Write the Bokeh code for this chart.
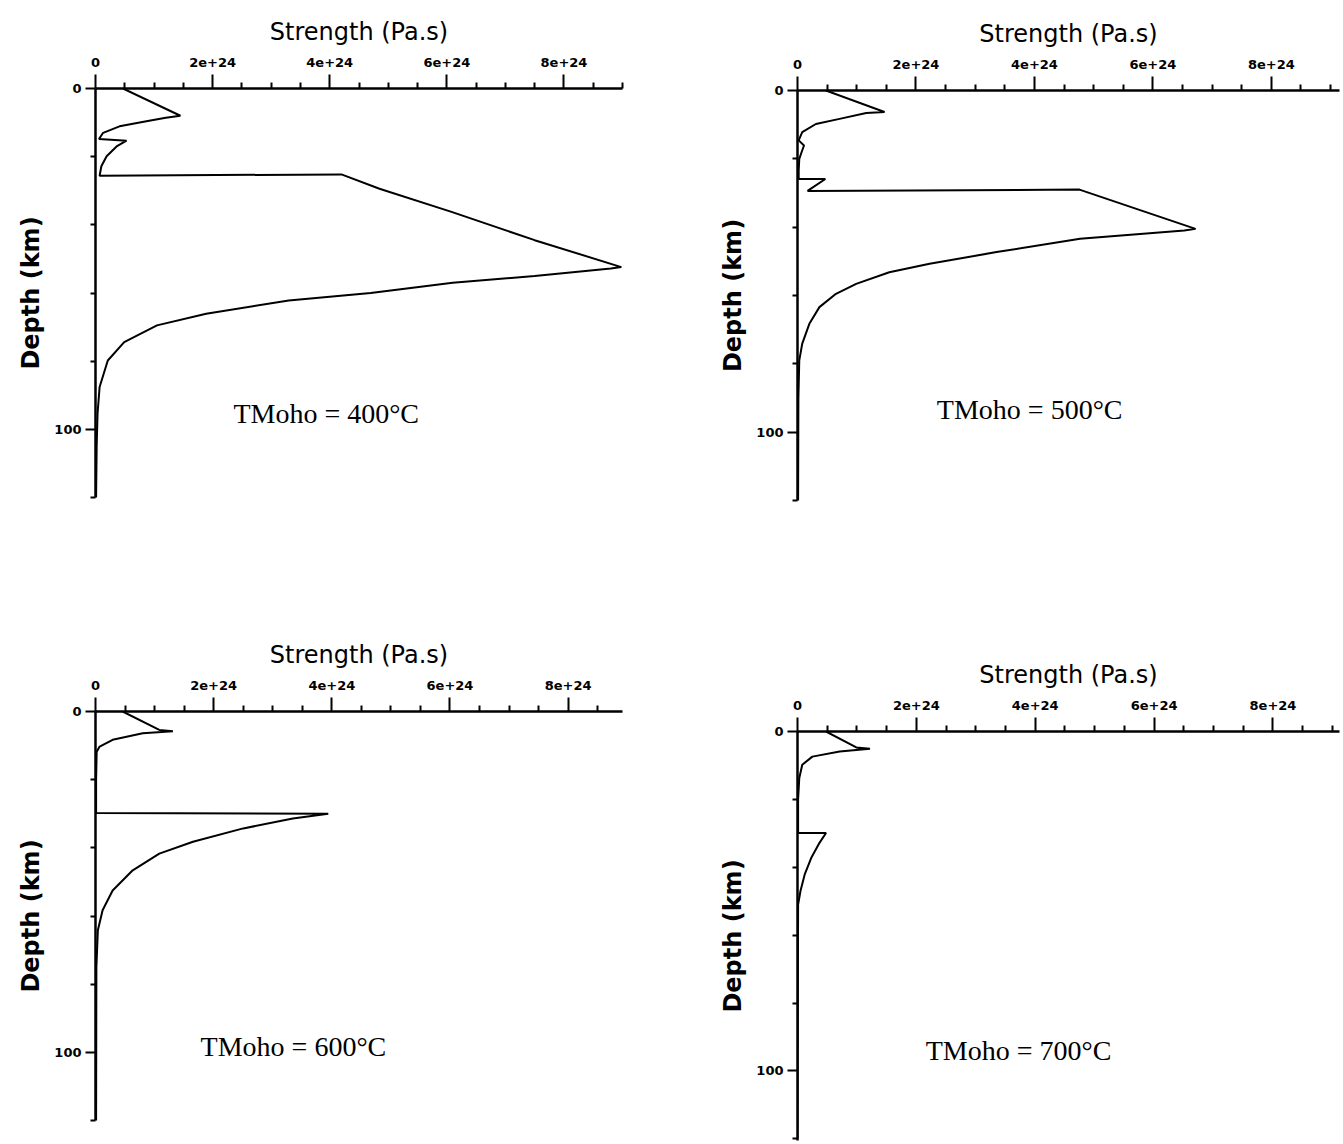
from bokeh.plotting import figure
from bokeh.models import Range1d, FixedTicker, Label, ColumnDataSource
from bokeh.layouts import column, row
from bokeh.embed import file_html
from bokeh.resources import INLINE

# ---------------- data (strength in units of 1e24 Pa.s, depth in km) -------------
X_TICKS = [0, 2, 4, 6, 8]
X_TICK_LABELS = ["0", "2e+24", "4e+24", "6e+24", "8e+24"]
X_MINOR_TICKS = [0.5, 1, 1.5, 2.5, 3, 3.5, 4.5, 5, 5.5, 6.5, 7, 7.5, 8.5, 9]
Y_TICKS = [0, 100]
Y_TICK_LABELS = ["0", "100"]
Y_MINOR_TICKS = [20, 40, 60, 80, 120]

DEPTH_400 = [0, 8.0, 8.6, 9.6, 11.1, 13.0, 14.8, 15.3, 17.0, 19.9, 22.8, 25.6, 25.2,
             29.4, 36.2, 44.5, 52.4, 52.8, 55.0, 57.0, 60.0, 62.2, 66.1, 69.5, 74.4,
             79.8, 87.6, 95.4, 105.0, 120.0]
STRENGTH_400 = [0.47, 1.45, 1.20, 0.87, 0.41, 0.13, 0.06, 0.53, 0.36, 0.19, 0.10, 0.07, 4.20,
                4.85, 6.08, 7.50, 8.98, 8.80, 7.50, 6.10, 4.70, 3.30, 1.89, 1.05, 0.49,
                0.21, 0.07, 0.035, 0.02, 0.01]

DEPTH_500 = [0, 6.3, 6.6, 8.3, 9.8, 12.2, 14.6, 16.1, 18.0, 20.0, 23.4, 25.9, 25.9, 29.4,
             29.0, 40.5, 41.0, 43.4, 47.3, 50.7, 53.2, 56.6, 59.5, 63.4, 68.3, 74.1, 79.0,
             90.0, 120.0]
STRENGTH_500 = [0.48, 1.47, 1.16, 0.71, 0.31, 0.08, 0.02, 0.11, 0.07, 0.03, 0.02, 0.02, 0.47, 0.17,
                4.76, 6.72, 6.53, 4.77, 3.36, 2.23, 1.55, 0.99, 0.65, 0.37, 0.20, 0.08, 0.03,
                0.015, 0.01]

DEPTH_600 = [0, 5.4, 5.8, 6.4, 8.3, 10.3, 11.8, 20.0, 29.8, 30.0, 31.4, 34.3, 38.2, 41.7,
             46.6, 52.5, 58.3, 64.2, 75.0, 120.0]
STRENGTH_600 = [0.46, 1.08, 1.31, 0.80, 0.29, 0.07, 0.02, 0.01, 0.01, 3.94, 3.34, 2.50, 1.65, 1.08,
                0.63, 0.29, 0.12, 0.04, 0.015, 0.01]

DEPTH_700 = [0, 4.7, 5.1, 5.9, 7.4, 9.8, 13.7, 20.0, 29.9, 29.9, 32.8, 37.3, 42.2, 47.0,
             51.0, 120.0]
STRENGTH_700 = [0.48, 0.99, 1.22, 0.71, 0.25, 0.08, 0.03, 0.01, 0.01, 0.48, 0.37, 0.23, 0.12, 0.05,
                0.01, 0.0]

TMOHO_LABELS = ["TMoho = 400°C", "TMoho = 500°C", "TMoho = 600°C", "TMoho = 700°C"]

X_TITLE = "Strength (Pa.s)"
Y_TITLE = "Depth (km)"


def make_panel(width, height, borders, x_end, y_end, strength, depth, text, tx, ty):
    bl, bt, br, bb = borders
    p = figure(width=width, height=height,
               x_range=Range1d(0, x_end), y_range=Range1d(y_end, 0),
               x_axis_location="above", y_axis_location="left",
               toolbar_location=None, output_backend="svg",
               min_border_left=bl, min_border_top=bt,
               min_border_right=br, min_border_bottom=bb)
    p.outline_line_color = None
    p.grid.visible = False
    p.background_fill_color = "white"
    p.border_fill_color = "white"

    src = ColumnDataSource(dict(x=strength, y=depth))
    p.line("x", "y", source=src, line_color="black", line_width=2)

    xa = p.xaxis[0]
    xa.ticker = FixedTicker(ticks=X_TICKS, minor_ticks=X_MINOR_TICKS)
    xa.major_label_overrides = {t: l for t, l in zip(X_TICKS, X_TICK_LABELS)}
    ya = p.yaxis[0]
    ya.ticker = FixedTicker(ticks=Y_TICKS, minor_ticks=Y_MINOR_TICKS)
    ya.major_label_overrides = {t: l for t, l in zip(Y_TICKS, Y_TICK_LABELS)}

    for ax in (xa, ya):
        ax.axis_line_color = "black"
        ax.axis_line_width = 2.5
        ax.major_tick_line_color = "black"
        ax.major_tick_line_width = 2
        ax.minor_tick_line_color = "black"
        ax.minor_tick_line_width = 2
        ax.major_tick_in = 0
        ax.minor_tick_in = 0
        ax.major_label_text_font = "DejaVu Sans"
        ax.major_label_text_font_style = "bold"
        ax.major_label_text_font_size = "13px"
        ax.major_label_text_color = "black"
        ax.axis_label_text_color = "black"

    xa.major_tick_out = 14
    xa.minor_tick_out = 6
    xa.major_label_standoff = 8
    xa.axis_label = X_TITLE
    xa.axis_label_text_font = "DejaVu Sans"
    xa.axis_label_text_font_style = "normal"
    xa.axis_label_text_font_size = "24px"
    xa.axis_label_standoff = 9

    ya.major_tick_out = 10
    ya.minor_tick_out = 5
    ya.major_label_standoff = 4
    ya.axis_label = Y_TITLE
    ya.axis_label_text_font = "DejaVu Sans"
    ya.axis_label_text_font_style = "bold"
    ya.axis_label_text_font_size = "24px"
    ya.axis_label_standoff = 6

    p.add_layout(Label(x=tx, y=ty, text=text, text_font="Liberation Serif",
                       text_font_size="28px", text_align="center",
                       text_baseline="alphabetic", text_color="black"))
    return p


# left column (x 0-680), right column (x 680-1343); top row 0-600, bottom 600-1144
p1 = make_panel(680, 600, (95, 88, 58, 103), 9.0, 120, STRENGTH_400, DEPTH_400,
                TMOHO_LABELS[0], 3.94, 95.3)
p3 = make_panel(680, 544, (95, 111, 58, 24), 8.92, 120, STRENGTH_600, DEPTH_600,
                TMOHO_LABELS[2], 3.35, 98.2)
p2 = make_panel(663, 600, (117, 90, 4, 100), 9.15, 120, STRENGTH_500, DEPTH_500,
                TMOHO_LABELS[1], 3.92, 93.5)
p4 = make_panel(663, 544, (117, 131, 4, 4), 9.12, 120.5, STRENGTH_700, DEPTH_700,
                TMOHO_LABELS[3], 3.72, 94.1)

layout = row(column(p1, p3), column(p2, p4))

open("out.html", "w").write(file_html(layout, INLINE))
